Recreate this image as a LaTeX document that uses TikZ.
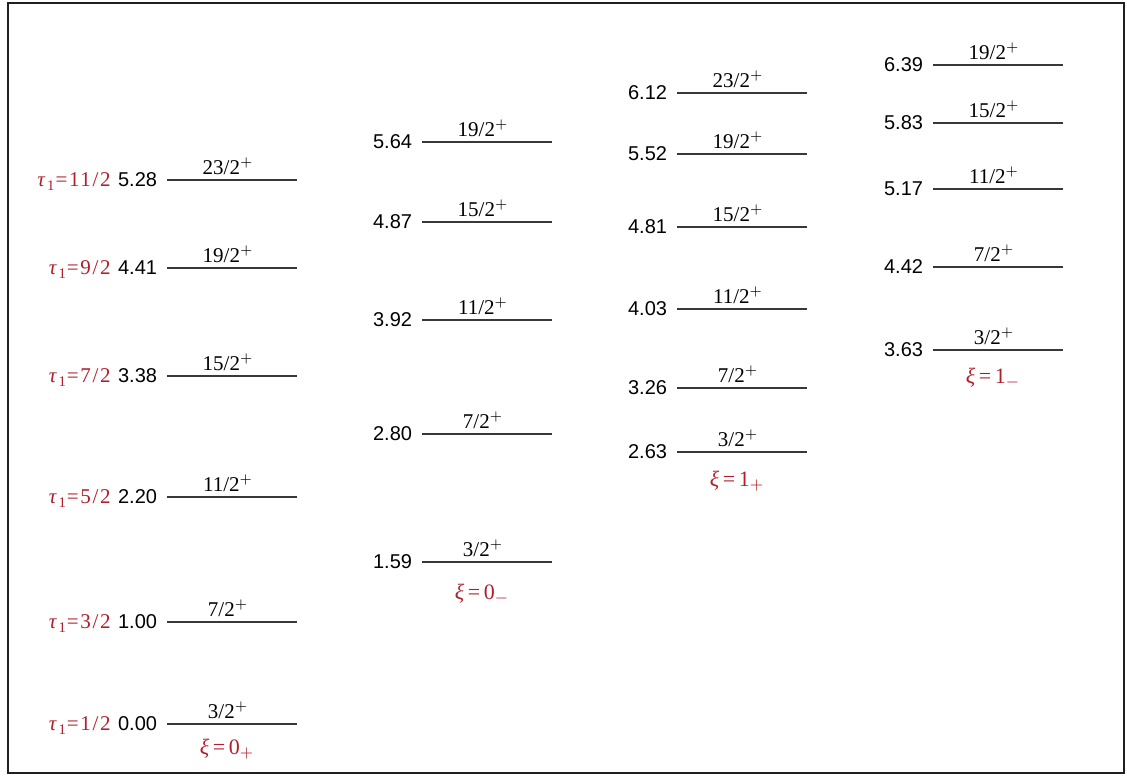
\documentclass[tikz,border=0pt]{standalone}
\usepackage{fontspec}
\setmainfont{Liberation Serif}
\newfontfamily\numfont{Liberation Sans}
\newfontfamily\taufont[LetterSpace=8]{Liberation Serif}
\usetikzlibrary{positioning}
\definecolor{lvl-line}{HTML}{383838}
\definecolor{label-red}{HTML}{B0202A}
\definecolor{frame-line}{HTML}{202020}
\tikzset{
  lvl/.style={draw=lvl-line, line width=1pt},
  energy/.style={anchor=east, inner sep=0pt, xshift=-4.5pt,
    font=\numfont\fontsize{10}{12}\selectfont},
  spin/.style={above=2pt, inner sep=0pt, xshift=-2pt,
    font=\fontsize{10.5}{12}\selectfont},
  tau/.style={anchor=base east, inner sep=0pt, text=label-red,
    font=\taufont\fontsize{10.5}{12}\selectfont},
  band/.style={inner sep=0pt, xshift=-2.5pt, text=label-red,
    font=\fontsize{11}{12}\selectfont}
}

\begin{document}
\begin{tikzpicture}[x=0.5pt, y=-0.5pt]

  % ---- Canvas and frame ----------------------------------------------------
  \fill[white] (0,0) rectangle (1127,776);
  \useasboundingbox (0,0) rectangle (1127,776);
  \draw[frame-line, line width=0.8pt] (8,3) rectangle (1124,773);

  % ---- Band xi = 0+ --------------------------------------------------------
  \draw[lvl] (167,724) node[energy] (ea0) {0.00} -- (297,724) coordinate (la0)
        node[spin, pos=0.5] (ja0) {3/2$^+$}
        node[band, pos=0.5, below=7pt] (xa0) {\textit{ξ}\,=\,0$_+$};
  \draw[lvl] (167,622) node[energy] (ea1) {1.00} -- (297,622) coordinate (la1)
        node[spin, pos=0.5] (ja1) {7/2$^+$};
  \draw[lvl] (167,497) node[energy] (ea2) {2.20} -- (297,497) coordinate (la2)
        node[spin, pos=0.5] (ja2) {11/2$^+$};
  \draw[lvl] (167,376) node[energy] (ea3) {3.38} -- (297,376) coordinate (la3)
        node[spin, pos=0.5] (ja3) {15/2$^+$};
  \draw[lvl] (167,268) node[energy] (ea4) {4.41} -- (297,268) coordinate (la4)
        node[spin, pos=0.5] (ja4) {19/2$^+$};
  \draw[lvl] (167,180) node[energy] (ea5) {5.28} -- (297,180) coordinate (la5)
        node[spin, pos=0.5] (ja5) {23/2$^+$};

  % ---- tau_1 labels (left margin) ------------------------------------------
  \node[tau] (ta0) at ([xshift=-3pt]ea0.base west) {\textit{τ}\textsubscript{1}=1/2};
  \node[tau] (ta1) at ([xshift=-3pt]ea1.base west) {\textit{τ}\textsubscript{1}=3/2};
  \node[tau] (ta2) at ([xshift=-3pt]ea2.base west) {\textit{τ}\textsubscript{1}=5/2};
  \node[tau] (ta3) at ([xshift=-3pt]ea3.base west) {\textit{τ}\textsubscript{1}=7/2};
  \node[tau] (ta4) at ([xshift=-3pt]ea4.base west) {\textit{τ}\textsubscript{1}=9/2};
  \node[tau] (ta5) at ([xshift=-3pt]ea5.base west) {\textit{τ}\textsubscript{1}=11/2};

  % ---- Band xi = 0- --------------------------------------------------------
  \draw[lvl] (422,562) node[energy] (eb0) {1.59} -- (552,562) coordinate (lb0)
        node[spin, pos=0.5] (jb0) {3/2$^+$}
        node[band, pos=0.5, below=10.5pt] (xb0) {\textit{ξ}\,=\,0$_-$};
  \draw[lvl] (422,434) node[energy] (eb1) {2.80} -- (552,434) coordinate (lb1)
        node[spin, pos=0.5] (jb1) {7/2$^+$};
  \draw[lvl] (422,320) node[energy] (eb2) {3.92} -- (552,320) coordinate (lb2)
        node[spin, pos=0.5] (jb2) {11/2$^+$};
  \draw[lvl] (422,222) node[energy] (eb3) {4.87} -- (552,222) coordinate (lb3)
        node[spin, pos=0.5] (jb3) {15/2$^+$};
  \draw[lvl] (422,142) node[energy] (eb4) {5.64} -- (552,142) coordinate (lb4)
        node[spin, pos=0.5] (jb4) {19/2$^+$};

  % ---- Band xi = 1+ --------------------------------------------------------
  \draw[lvl] (677,452) node[energy] (ec0) {2.63} -- (807,452) coordinate (lc0)
        node[spin, pos=0.5] (jc0) {3/2$^+$}
        node[band, pos=0.5, below=9pt] (xc0) {\textit{ξ}\,=\,1$_+$};
  \draw[lvl] (677,388) node[energy] (ec1) {3.26} -- (807,388) coordinate (lc1)
        node[spin, pos=0.5] (jc1) {7/2$^+$};
  \draw[lvl] (677,309) node[energy] (ec2) {4.03} -- (807,309) coordinate (lc2)
        node[spin, pos=0.5] (jc2) {11/2$^+$};
  \draw[lvl] (677,227) node[energy] (ec3) {4.81} -- (807,227) coordinate (lc3)
        node[spin, pos=0.5] (jc3) {15/2$^+$};
  \draw[lvl] (677,154) node[energy] (ec4) {5.52} -- (807,154) coordinate (lc4)
        node[spin, pos=0.5] (jc4) {19/2$^+$};
  \draw[lvl] (677,93) node[energy] (ec5) {6.12} -- (807,93) coordinate (lc5)
        node[spin, pos=0.5] (jc5) {23/2$^+$};

  % ---- Band xi = 1- --------------------------------------------------------
  \draw[lvl] (933,350) node[energy] (ed0) {3.63} -- (1063,350) coordinate (ld0)
        node[spin, pos=0.5] (jd0) {3/2$^+$}
        node[band, pos=0.5, below=8.5pt] (xd0) {\textit{ξ}\,=\,1$_-$};
  \draw[lvl] (933,267) node[energy] (ed1) {4.42} -- (1063,267) coordinate (ld1)
        node[spin, pos=0.5] (jd1) {7/2$^+$};
  \draw[lvl] (933,189) node[energy] (ed2) {5.17} -- (1063,189) coordinate (ld2)
        node[spin, pos=0.5] (jd2) {11/2$^+$};
  \draw[lvl] (933,123) node[energy] (ed3) {5.83} -- (1063,123) coordinate (ld3)
        node[spin, pos=0.5] (jd3) {15/2$^+$};
  \draw[lvl] (933,65) node[energy] (ed4) {6.39} -- (1063,65) coordinate (ld4)
        node[spin, pos=0.5] (jd4) {19/2$^+$};

\end{tikzpicture}
\end{document}
